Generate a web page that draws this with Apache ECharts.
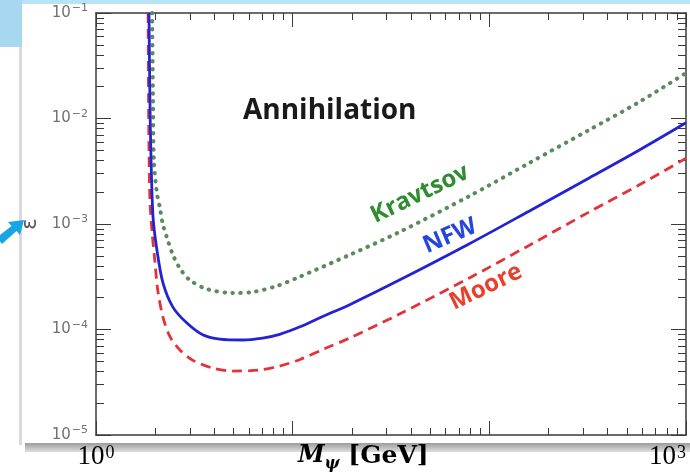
<!DOCTYPE html>
<html>
<head>
<meta charset="utf-8">
<script src="https://cdn.jsdelivr.net/npm/echarts@6/dist/echarts.min.js"></script>
<style>
  html, body { margin: 0; padding: 0; background: #fff; }
  #chart { width: 690px; height: 474px; }
</style>
</head>
<body>
<div id="chart"></div>
<script>
// curves: mass in GeV, epsilon
var nfwMass = [1.86, 1.88, 1.90, 1.95, 2.04, 2.19, 2.46, 2.90, 3.49, 4.26, 5.58, 7.04, 8.59, 10.9, 14.6, 19.5, 34.9, 79.2, 160, 322, 577, 1000];
var nfwEps = [0.1, 0.015, 0.0050, 0.00116, 5.7e-4, 2.76e-4, 1.63e-4, 1.15e-4, 8.9e-5, 8.1e-5, 7.95e-5, 8.3e-5, 9.0e-5, 1.06e-4, 1.36e-4, 1.72e-4, 2.94e-4, 6.5e-4, 1.33e-3, 2.73e-3, 5.0e-3, 9.1e-3];

var kravMass = [1.93, 1.95, 1.97, 2.04, 2.11, 2.19, 2.29, 2.46, 2.67, 3.00, 3.66, 4.96, 6.27, 8.29, 10.5, 19.5, 34.9, 79.2, 160, 322, 577, 1000];
var kravEps = [0.1, 0.015, 0.0040, 1.97e-3, 1.45e-3, 9.8e-4, 7.5e-4, 5.1e-4, 3.8e-4, 2.94e-4, 2.42e-4, 2.22e-4, 2.27e-4, 2.58e-4, 3.08e-4, 5.1e-4, 8.4e-4, 1.84e-3, 3.8e-3, 7.8e-3, 1.43e-2, 2.7e-2];

var mooreMass = [1.84, 1.85, 1.86, 1.88, 1.93, 1.99, 2.06, 2.19, 2.38, 2.67, 3.11, 3.93, 4.96, 6.80, 8.59, 10.9, 14.6, 19.5, 34.9, 79.2, 160, 322, 577, 1000];
var mooreEps = [0.1, 0.015, 0.0050, 1.69e-3, 8.2e-4, 4.56e-4, 2.37e-4, 1.31e-4, 8.5e-5, 6.4e-5, 5.1e-5, 4.3e-5, 4.04e-5, 4.13e-5, 4.5e-5, 5.2e-5, 6.6e-5, 8.3e-5, 1.40e-4, 3.08e-4, 6.3e-4, 1.30e-3, 2.34e-3, 4.2e-3];

// ticks
var xMajorTicks = [1, 10, 100, 1000];
var xMinorTicks = [2, 3, 4, 5, 6, 7, 8, 9, 20, 30, 40, 50, 60, 70, 80, 90, 200, 300, 400, 500, 600, 700, 800, 900];
var xLabelShown = [1, 1000];
var yMajorTicks = [1e-5, 1e-4, 1e-3, 1e-2, 1e-1];
var yMinorTicks = [2e-5, 3e-5, 4e-5, 5e-5, 6e-5, 7e-5, 8e-5, 9e-5,
  2e-4, 3e-4, 4e-4, 5e-4, 6e-4, 7e-4, 8e-4, 9e-4,
  2e-3, 3e-3, 4e-3, 5e-3, 6e-3, 7e-3, 8e-3, 9e-3,
  2e-2, 3e-2, 4e-2, 5e-2, 6e-2, 7e-2, 8e-2, 9e-2];

function pairs(xs, ys) {
  var out = [];
  for (var i = 0; i < xs.length; i++) out.push([xs[i], ys[i]]);
  return out;
}

var axisColor = "#3a3a3a";

// one log axis per side for the long ticks, one more for the short ones
function makeAxis(pos, isX, ticks, len, main) {
  return {
    type: "log",
    logBase: 10,
    min: isX ? 1 : 1e-5,
    max: isX ? 1000 : 0.1,
    position: pos,
    axisLine: { show: main, onZero: false, lineStyle: { color: axisColor, width: 1.5 } },
    axisTick: { show: true, inside: true, length: len, customValues: ticks, lineStyle: { color: axisColor, width: 1 } },
    axisLabel: { show: false },
    splitLine: { show: false },
    minorTick: { show: false },
  };
}

var xAxes = [
  makeAxis("bottom", true, xMajorTicks, 14, true),
  makeAxis("bottom", true, xMinorTicks, 7, false),
  makeAxis("top", true, xMajorTicks, 14, true),
  makeAxis("top", true, xMinorTicks, 7, false),
];
xAxes[0].axisLabel = {
  show: true,
  margin: 9,
  customValues: xMajorTicks,
  alignMaxLabel: "right",
  formatter: function (v) {
    if (xLabelShown.indexOf(v) < 0) return "";
    return "{b|10}{s|" + Math.round(Math.log10(v)) + "}";
  },
  rich: {
    b: { fontFamily: "Liberation Serif", fontSize: 27, color: "#000", lineHeight: 26, verticalAlign: "bottom" },
    s: { fontFamily: "Liberation Serif", fontSize: 18, color: "#000", lineHeight: 26, verticalAlign: "top", padding: [0, 0, 10, 1] },
  },
};

var yAxes = [
  makeAxis("left", false, yMajorTicks, 15, true),
  makeAxis("left", false, yMinorTicks, 8, false),
  makeAxis("right", false, yMajorTicks, 15, true),
  makeAxis("right", false, yMinorTicks, 8, false),
];
yAxes[0].axisLabel = {
  show: true,
  margin: 8,
  customValues: yMajorTicks,
  formatter: function (v) {
    return "{b|10}{s|\u2212" + Math.round(-Math.log10(v)) + "}";
  },
  rich: {
    b: { fontFamily: "DejaVu Sans", fontSize: 15, color: "#727272" },
    s: { fontFamily: "DejaVu Sans", fontSize: 11, color: "#727272", padding: [0, 0, 9, 1] },
  },
};
yAxes[0].name = "\u03b5";
yAxes[0].nameLocation = "middle";
yAxes[0].nameGap = 55;
yAxes[0].nameTextStyle = { fontFamily: "DejaVu Sans", fontSize: 21, color: "#555" };

var labelFont = { fontFamily: "Open Sans", fontWeight: "bold", align: "center", verticalAlign: "middle" };
function slanted(text, x, y, rot, size, color) {
  return {
    type: "text", x: x, y: y, rotation: rot,
    style: Object.assign({ text: text, fontSize: size, fill: color }, labelFont),
  };
}

var option = {
  backgroundColor: "#fff",
  animation: false,
  grid: { left: 96, right: 4, top: 13, bottom: 39, containLabel: false },
  xAxis: xAxes,
  yAxis: yAxes,
  series: [
    {
      name: "Kravtsov",
      type: "line",
      data: pairs(kravMass, kravEps),
      showSymbol: false,
      smooth: 0.3,
      lineStyle: { color: "#5b8b5b", width: 4, type: [0.5, 7.5], cap: "round" },
      z: 3,
    },
    {
      name: "NFW",
      type: "line",
      data: pairs(nfwMass, nfwEps),
      showSymbol: false,
      smooth: 0.3,
      lineStyle: { color: "#2323d2", width: 2.8 },
      z: 4,
    },
    {
      name: "Moore",
      type: "line",
      data: pairs(mooreMass, mooreEps),
      showSymbol: false,
      smooth: 0.3,
      lineStyle: { color: "#e23338", width: 2.8, type: [10, 6] },
      z: 3,
    },
  ],
  graphic: [
    // slide bits round the chart
    { type: "rect", z: -10, shape: { x: 0, y: 0, width: 690, height: 4 }, style: { fill: "#b8e2f6" } },
    { type: "rect", z: -10, shape: { x: 0, y: 0, width: 22, height: 47 }, style: { fill: "#a8d8f0" } },
    { type: "rect", z: -10, shape: { x: 19, y: 47, width: 3, height: 398 }, style: { fill: "#dadada" } },
    {
      type: "rect", z: -10,
      shape: { x: 25, y: 443, width: 665, height: 9 },
      style: {
        fill: new echarts.graphic.LinearGradient(0, 0, 0, 1, [
          { offset: 0, color: "#9c9c9c" },
          { offset: 1, color: "#dedede" },
        ]),
      },
    },
    {
      type: "polygon",
      shape: { points: [[-3, 237.5], [11.5, 226], [8, 222], [24, 220], [20, 235], [16.5, 231], [2, 244]] },
      style: { fill: "#19a4e8" },
    },
    {
      type: "text", x: 243, y: 111,
      style: { text: "Annihilation", fontFamily: "Open Sans", fontWeight: "bold", fontSize: 28, fill: "#1a1a1a", verticalAlign: "middle" },
    },
    slanted("Kravtsov", 420, 194, 0.45, 24, "#2f8c2f"),
    slanted("NFW", 450, 236, 0.40, 24, "#2446dc"),
    slanted("Moore", 486, 287, 0.45, 24, "#e8402c"),
    {
      type: "text", x: 298, y: 444,
      style: {
        text: "{m|M}{p|\u03c8}{g| [GeV]}",
        rich: {
          m: { fontFamily: "DejaVu Serif", fontStyle: "italic", fontWeight: "bold", fontSize: 24, fill: "#000", lineHeight: 28, verticalAlign: "top" },
          p: { fontFamily: "DejaVu Serif", fontStyle: "italic", fontWeight: "bold", fontSize: 16, fill: "#000", lineHeight: 28, padding: [12, 0, 0, 0] },
          g: { fontFamily: "DejaVu Serif", fontWeight: "bold", fontSize: 25, fill: "#000", lineHeight: 28, verticalAlign: "top" },
        },
      },
    },
  ],
};

var chart = echarts.init(document.getElementById("chart"));
chart.setOption(option);
</script>
</body>
</html>
